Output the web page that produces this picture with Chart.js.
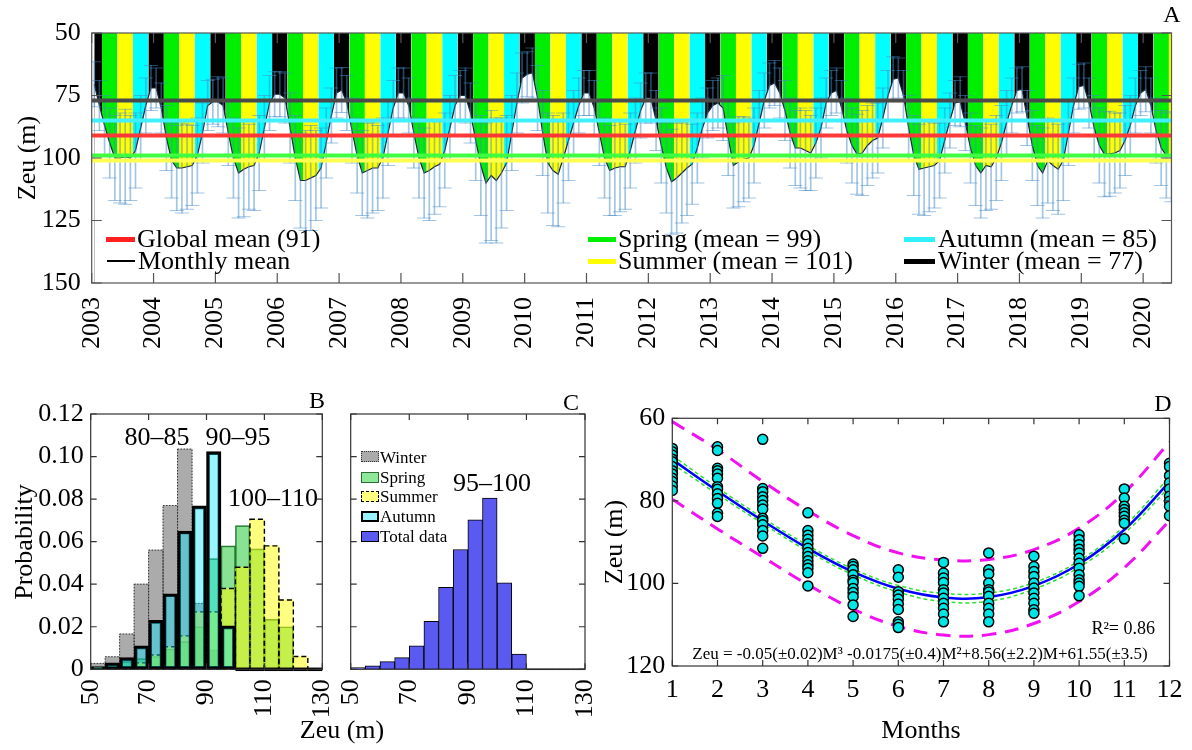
<!DOCTYPE html>
<html>
<head>
<meta charset="utf-8">
<title>Zeu seasonal variability</title>
<script src="https://cdn.jsdelivr.net/npm/chart.js@4.4.1/dist/chart.umd.min.js"></script>
<style>
  body { margin: 0; background: #fff; }
  #fig { position: relative; width: 1192px; height: 750px; overflow: hidden;
         font-family: "Liberation Serif", "Times New Roman", serif; color: #000; }
  #fig canvas { position: absolute; left: 0; top: 0; }
  .t { position: absolute; white-space: nowrap; line-height: 1; transform: translate(-50%, -50%); }
  .r { transform: translate(-50%, -50%) rotate(-90deg); }
  .l { transform: translate(0, -50%); }
  .e { transform: translate(-100%, -50%); }
  .sw { position: absolute; box-sizing: border-box; }
</style>
</head>
<body>
<div id="fig">
  <canvas id="chartA" width="1192" height="750"></canvas>
  <canvas id="chartB" width="1192" height="750"></canvas>
  <canvas id="chartC" width="1192" height="750"></canvas>
  <canvas id="chartD" width="1192" height="750"></canvas>

  <!-- panel A text -->
  <div class="t r" style="left:27px;top:158px;font-size:26px">Zeu (m)</div>
  <div class="t" style="left:1172px;top:14px;font-size:24px">A</div>
  <div class="sw" style="left:106px;top:237px;width:29px;height:5px;background:#ff2020"></div>
  <div class="t l" style="left:137px;top:239px;font-size:26px">Global mean (91)</div>
  <div class="sw" style="left:107px;top:260px;width:28px;height:1.5px;background:#000"></div>
  <div class="t l" style="left:138px;top:261px;font-size:26px">Monthly mean</div>
  <div class="sw" style="left:588px;top:237px;width:28px;height:5px;background:#00ee00"></div>
  <div class="t l" style="left:618px;top:239px;font-size:26px">Spring (mean = 99)</div>
  <div class="sw" style="left:588px;top:259px;width:28px;height:5px;background:#ffff00"></div>
  <div class="t l" style="left:618px;top:261px;font-size:26px">Summer (mean = 101)</div>
  <div class="sw" style="left:904px;top:237px;width:31px;height:5px;background:#30f0ff"></div>
  <div class="t l" style="left:938px;top:239px;font-size:26px">Autumn (mean = 85)</div>
  <div class="sw" style="left:904px;top:259px;width:31px;height:5px;background:#000"></div>
  <div class="t l" style="left:938px;top:261px;font-size:26px">Winter (mean = 77)</div>

  <!-- panel B / C text -->
  <div class="t r" style="left:24px;top:542px;font-size:26px">Probability</div>
  <div class="t" style="left:317px;top:400px;font-size:24px">B</div>
  <div class="t" style="left:157px;top:437px;font-size:26px">80–85</div>
  <div class="t" style="left:238px;top:437px;font-size:26px">90–95</div>
  <div class="t" style="left:273px;top:498px;font-size:26px">100–110</div>
  <div class="t" style="left:342px;top:730px;font-size:26px">Zeu (m)</div>
  <div class="t" style="left:571px;top:402px;font-size:24px">C</div>
  <div class="t" style="left:492px;top:483px;font-size:26px">95–100</div>
  <div class="sw" style="left:361px;top:451px;width:18px;height:11px;background:#aaaaaa;border:1px dotted #333"></div>
  <div class="t l" style="left:380px;top:457px;font-size:17px">Winter</div>
  <div class="sw" style="left:361px;top:472px;width:18px;height:11px;background:#8ee89a;border:1px solid #2d6a35"></div>
  <div class="t l" style="left:380px;top:477px;font-size:17px">Spring</div>
  <div class="sw" style="left:361px;top:491px;width:18px;height:11px;background:#ffff80;border:1px dashed #000"></div>
  <div class="t l" style="left:380px;top:496px;font-size:17px">Summer</div>
  <div class="sw" style="left:361px;top:511px;width:18px;height:11px;background:#99f3ff;border:2px solid #000"></div>
  <div class="t l" style="left:380px;top:516px;font-size:17px">Autumn</div>
  <div class="sw" style="left:361px;top:531px;width:18px;height:11px;background:#5a5af0;border:1px solid #000"></div>
  <div class="t l" style="left:380px;top:536px;font-size:17px">Total data</div>

  <!-- panel D text -->
  <div class="t" style="left:1163px;top:403px;font-size:24px">D</div>
  <div class="t r" style="left:614px;top:542px;font-size:26px">Zeu (m)</div>
  <div class="t" style="left:921px;top:730px;font-size:26px">Months</div>
  <div class="t e" style="left:1155px;top:628px;font-size:18px">R²= 0.86</div>
  <div class="t" style="left:920px;top:653px;font-size:17px">Zeu = -0.05(±0.02)M³ -0.0175(±0.4)M²+8.56(±2.2)M+61.55(±3.5)</div>
</div>

<script>
// ---------- data: panel A (monthly mean Zeu, m) ----------
const years = [2003, 2004, 2005, 2006, 2007, 2008, 2009, 2010, 2011, 2012,
               2013, 2014, 2015, 2016, 2017, 2018, 2019, 2020];
// Jan..Dec for each year (2020 ends in June)
const monthlyMean = [
  [70.5, 79, 87, 94, 100, 100, 99.5, 100, 97, 88, 79, 72],
  [72, 80, 92, 101, 104, 104, 103.5, 103, 99, 90, 79, 77.5],
  [77.5, 79, 90, 100, 106, 104.5, 103.5, 103, 98, 88, 78, 74.5],
  [74.5, 76, 88, 100, 109, 109, 108, 107, 104, 94, 83, 74],
  [72.8, 78, 89, 99, 106, 105, 104, 104, 100, 90, 80, 74],
  [74, 79, 90, 100, 106, 105, 103.5, 102.5, 97, 88, 79, 75],
  [75, 82, 93, 103, 110, 107, 109, 106, 102, 90, 78, 68],
  [66.5, 66, 76, 90, 102, 105, 106.5, 100, 93, 86, 79, 74],
  [74, 80, 90, 100, 105, 104, 103.5, 103.5, 97, 89, 81, 76],
  [76, 85, 95, 104, 109.5, 108, 106, 104, 102.5, 96, 88, 82],
  [79, 78, 80, 92, 103, 101.5, 100.5, 100, 95, 86, 77, 71],
  [70, 74, 81, 90, 96, 96, 97, 98, 94, 88, 78, 74],
  [73, 80, 89, 95, 98.5, 98, 95, 93, 92, 84, 75, 68.5],
  [68, 75, 88, 99, 104.5, 104, 103.5, 103, 101, 93, 85, 78],
  [77.5, 86, 96, 103, 106, 103, 103.5, 100, 94, 86, 79, 73],
  [72.5, 84, 95, 103, 106, 101, 103, 104.5, 101, 90, 79, 71.5],
  [71, 78, 88, 95, 98.5, 98.3, 98, 97, 93, 87, 79, 74],
  [72.5, 79, 89, 96, 99, 99.5]
];
// standard deviation for each monthly mean
const monthlySd = [
  [9, 10, 12, 14, 17, 18, 19, 17, 15, 13, 11, 9],
  [8, 10, 13, 15, 17, 18, 17, 16, 15, 12, 10, 9],
  [10, 11, 13, 16, 18, 19, 17, 18, 15, 13, 11, 9],
  [9, 10, 14, 17, 19, 20, 21, 18, 16, 14, 11, 10],
  [9, 11, 13, 15, 17, 19, 18, 17, 16, 13, 11, 10],
  [10, 11, 14, 16, 18, 20, 19, 17, 15, 13, 12, 10],
  [11, 12, 16, 20, 24, 26, 25, 22, 19, 15, 12, 10],
  [9, 10, 13, 17, 20, 22, 21, 18, 16, 13, 11, 9],
  [9, 11, 13, 16, 18, 19, 18, 17, 15, 13, 11, 10],
  [10, 12, 15, 18, 21, 22, 20, 19, 16, 14, 12, 10],
  [10, 10, 13, 15, 17, 18, 17, 16, 15, 13, 11, 9],
  [9, 10, 12, 14, 15, 16, 16, 15, 14, 12, 10, 9],
  [9, 11, 13, 15, 16, 17, 16, 15, 14, 12, 10, 9],
  [8, 10, 13, 16, 18, 19, 18, 17, 15, 13, 11, 9],
  [10, 11, 14, 16, 18, 18, 17, 17, 15, 13, 11, 9],
  [9, 11, 14, 16, 18, 17, 18, 18, 16, 13, 11, 9],
  [9, 10, 13, 15, 17, 17, 16, 15, 14, 12, 11, 9],
  [9, 11, 13, 15, 17, 18]
];
const seasonOfMonth = ['Winter', 'Winter', 'Spring', 'Spring', 'Spring', 'Summer',
                       'Summer', 'Summer', 'Autumn', 'Autumn', 'Autumn', 'Winter'];
const globalMean = 91;
const seasonMean = { Spring: 99, Summer: 101, Autumn: 85, Winter: 77 };

// ---------- data: panels B and C (probability per 5 m bin) ----------
const binCenters = [52.5, 57.5, 62.5, 67.5, 72.5, 77.5, 82.5, 87.5,
                    92.5, 97.5, 102.5, 107.5, 112.5, 117.5, 122.5, 127.5];
const probWinter = [0.0028, 0.0059, 0.0166, 0.040, 0.056, 0.077, 0.1035, 0.031,
                    0.009, 0, 0, 0, 0, 0, 0, 0];
const probSpring = [0.0008, 0.002, 0.0036, 0.005, 0.006, 0.0095, 0.013, 0.020,
                    0.052, 0.058, 0.0675, 0.0566, 0.0235, 0.020, 0, 0];
const probSummer = [0, 0.0005, 0.001, 0.003, 0.0067, 0.0106, 0.0157, 0.027,
                    0.027, 0.038, 0.048, 0.0705, 0.058, 0.0326, 0.006, 0];
const probAutumn = [0.0013, 0.003, 0.0055, 0.011, 0.023, 0.0355, 0.065, 0.0768,
                    0.1023, 0.0204, 0, 0, 0, 0, 0, 0];
const probTotal = [0.0008, 0.0016, 0.0036, 0.0055, 0.011, 0.0225, 0.0385, 0.0563,
                   0.0703, 0.0805, 0.0406, 0.0071, 0, 0, 0, 0];

// ---------- data: panel D (Zeu by calendar month) ----------
const monthNums = [1, 2, 3, 4, 5, 6, 7, 8, 9, 10, 11, 12];
const zeuByMonth = [
  [67.3, 68.1, 68.9, 69.9, 70.5, 71.7, 72.7, 73.5, 74.5, 75.3, 76.4, 77.5],
  [66.9, 67.8, 72.1, 72.7, 73.5, 74.5, 76.6, 77.2, 78.3, 79.4, 80.6, 83, 83.8],
  [65.1, 77, 77.8, 79, 79.9, 81, 82, 84.2, 84.8, 85.8, 87.2, 88.5, 91.5],
  [82.9, 87.2, 88.3, 89.3, 90.4, 91.5, 92.5, 93.5, 94.5, 95.5, 96.3, 97.4, 100.6],
  [95.3, 95.9, 96.7, 97.9, 99.2, 99.8, 101.2, 102.2, 103.2, 105.2, 108],
  [96.7, 98.5, 102, 102.8, 103.8, 105, 106.3, 109.3, 109.9, 110.7],
  [94.9, 97.5, 98.7, 99.8, 101.5, 102.3, 103.6, 104.8, 106, 107.4, 109.3],
  [92.6, 96.7, 97.7, 99.9, 101.5, 102.1, 103.1, 104.8, 106, 107.4, 109.3],
  [93.4, 95.9, 97.1, 98.3, 99.9, 101.1, 102.3, 103.6, 104.8, 106.4, 107.2],
  [88.2, 89.4, 90.6, 91.7, 92.6, 93.9, 95.1, 96.3, 97.9, 99.1, 99.9, 100.7, 103],
  [77.1, 79.3, 81.3, 82.1, 82.9, 83.7, 84.7, 85.4, 89.2],
  [70.9, 71.7, 73.9, 75.6, 77.1, 78.9, 80.1, 81.3, 83.6]
];
const fitZeu  = [70.0, 77.6, 84.8, 91.5, 97.2, 101.3, 103.4, 103.3, 100.6, 95.3, 87.0, 75.4];
const ciUpper = [69.0, 76.8, 84.1, 90.8, 96.5, 100.5, 102.4, 102.3, 99.8, 94.5, 86.1, 74.2];
const ciLower = [71.0, 78.4, 85.5, 92.2, 97.9, 102.1, 104.4, 104.3, 101.4, 96.1, 87.9, 76.6];
const piUpper = [60.8, 67.6, 75.3, 82.4, 88.4, 92.6, 94.3, 94.2, 91.8, 86.6, 78.0, 65.8];
const piLower = [79.6, 86.8, 93.6, 100.3, 106.2, 110.4, 112.5, 112.4, 109.7, 104.4, 96.2, 84.8];

// ---------- styling ----------
Chart.defaults.font.family = '"Liberation Serif", "Times New Roman", serif';
Chart.defaults.font.size = 26;
Chart.defaults.color = '#000';
Chart.defaults.animation = false;
Chart.defaults.responsive = false;
Chart.defaults.events = [];
Chart.defaults.plugins.legend.display = false;
Chart.defaults.plugins.tooltip.enabled = false;

const seasonColor = { Winter: '#000000', Spring: '#00ee00', Summer: '#ffff00', Autumn: '#00ffff' };
const errColor = 'rgba(70,140,200,0.5)';

// box around the plot with inward tick marks on all four sides
const framePlugin = {
  id: 'frame',
  afterDatasetsDraw(chart, args, opts) {
    const { ctx, chartArea: a, scales } = chart;
    const L = opts.len || 7;
    ctx.save();
    ctx.strokeStyle = opts.color || '#333';
    ctx.lineWidth = opts.width || 1.2;
    ctx.strokeRect(a.left, a.top, a.right - a.left, a.bottom - a.top);
    ctx.beginPath();
    scales.x.ticks.forEach((t, i) => {
      const px = scales.x.getPixelForTick(i);
      ctx.moveTo(px, a.bottom); ctx.lineTo(px, a.bottom - L);
      ctx.moveTo(px, a.top); ctx.lineTo(px, a.top + L);
    });
    scales.y.ticks.forEach((t, i) => {
      const py = scales.y.getPixelForTick(i);
      ctx.moveTo(a.left, py); ctx.lineTo(a.left + L, py);
      ctx.moveTo(a.right, py); ctx.lineTo(a.right - L, py);
    });
    ctx.stroke();
    ctx.restore();
  }
};

// dashed / dotted outlines for histogram bars, and outlines of empty bins
const outlinePlugin = {
  id: 'outline',
  afterDatasetDraw(chart, { meta, index }) {
    const ds = chart.data.datasets[index];
    const ctx = chart.ctx;
    ctx.save();
    meta.data.forEach(bar => {
      const { x, y, base, width } = bar.getProps(['x', 'y', 'base', 'width'], true);
      const empty = Math.abs(base - y) < 0.5;
      if (empty && ds.zeroLineWidth) {
        ctx.setLineDash([]);
        ctx.strokeStyle = ds.borderColor;
        ctx.lineWidth = ds.zeroLineWidth;
        ctx.beginPath();
        ctx.moveTo(x - width / 2, base); ctx.lineTo(x + width / 2, base);
        ctx.stroke();
      } else if (!empty && ds.outlineDash) {
        ctx.strokeStyle = ds.outlineColor;
        ctx.lineWidth = ds.outlineWidth;
        ctx.setLineDash(ds.outlineDash);
        ctx.strokeRect(x - width / 2, Math.min(y, base), width, Math.abs(base - y));
      }
    });
    ctx.restore();
  }
};

// place the plot area of a full-size canvas
function pad(l, t, r, b, yw, xh) {
  return { left: l - yw, top: t, right: 1192 - r, bottom: 750 - b - xh };
}
const noGrid = { display: false, drawTicks: false };

// ---------- panel A ----------
const meanPts = [], stems = [], capHi = [], capLo = [];
years.forEach((yr, i) => {
  monthlyMean[i].forEach((v, m) => {
    const x = yr + (m + 0.5) / 12;
    const s = monthlySd[i][m];
    meanPts.push({ x, y: v });
    stems.push({ x, y: [v - s, v + s] });
    capHi.push({ x, y: v - s });
    capLo.push({ x, y: v + s });
  });
});
// seasonal background: one block per month, limited to the span of the monthly series
const xStartA = 2003, xEndA = meanPts[meanPts.length - 1].x;
const stripePts = [];
for (let k = 0; k < meanPts.length; k++) stripePts.push({ x: k === 0 ? meanPts[0].x : xStartA + k / 12, y: 150 });
stripePts.push({ x: xEndA, y: 150 });

function hline(v, color, order) {
  return { data: [{ x: xStartA, y: v }, { x: xEndA, y: v }], borderColor: color,
           borderWidth: 4, pointRadius: 0, fill: false, order };
}

new Chart(document.getElementById('chartA'), {
  type: 'line',
  data: {
    datasets: [
      { data: stripePts, borderWidth: 0, pointRadius: 0, fill: { value: 50 },
        backgroundColor: '#000', order: 10,
        segment: { backgroundColor: c => seasonColor[seasonOfMonth[c.p0DataIndex % 12]] } },
      { data: meanPts, borderColor: '#1b2631', borderWidth: 1.2, pointRadius: 0,
        fill: { value: 150 }, backgroundColor: '#ffffff', order: 9 },
      { type: 'bar', data: stems, barThickness: 1, backgroundColor: errColor,
        borderWidth: 0, order: 8 },
      { data: capHi, showLine: false, pointStyle: 'line', pointRadius: 7,
        pointBorderColor: errColor, pointBorderWidth: 1, order: 7 },
      { data: capLo, showLine: false, pointStyle: 'line', pointRadius: 7,
        pointBorderColor: errColor, pointBorderWidth: 1, order: 7 },
      hline(seasonMean.Winter, '#4a4a4a', 5),
      hline(seasonMean.Autumn, '#40f0ff', 4),
      hline(globalMean, '#ff3838', 3),
      hline(seasonMean.Spring, '#40ff40', 2),
      hline(seasonMean.Summer, '#ffff50', 1)
    ]
  },
  options: {
    layout: { padding: pad(91.7, 33, 1171.5, 283, 90, 100) },
    scales: {
      x: { type: 'linear', min: xStartA, max: xEndA, offset: false, grid: noGrid, border: { display: false },
           ticks: { stepSize: 1, includeBounds: false, autoSkip: false, minRotation: 90, maxRotation: 90,
                    padding: 14, callback: v => String(v) },
           afterFit: s => { s.height = 100; } },
      y: { type: 'linear', min: 50, max: 150, reverse: true, grid: noGrid, border: { display: false },
           ticks: { stepSize: 25, padding: 11 },
           afterFit: s => { s.width = 90; } }
    },
    plugins: { frame: { len: 10, color: '#555' } }
  },
  plugins: [framePlugin]
});

// ---------- panels B and C ----------
function histScales(showY) {
  return {
    x: { type: 'linear', min: 50, max: 130, offset: false, grid: noGrid, border: { display: false },
         ticks: { stepSize: 20, autoSkip: false, minRotation: 90, maxRotation: 90, padding: 10 },
         afterFit: s => { s.height = 60; } },
    y: { type: 'linear', min: 0, max: 0.12, grid: noGrid, border: { display: false },
         ticks: { display: showY, stepSize: 0.02, padding: 7,
                  callback: v => v === 0 ? '0' : v.toFixed(2) },
         afterFit: s => { s.width = showY ? 88 : 20; } }
  };
}
const pts = arr => arr.map((v, i) => ({ x: binCenters[i], y: v }));
const barBase = { barPercentage: 1, categoryPercentage: 1, grouped: false, borderSkipped: false };

new Chart(document.getElementById('chartB'), {
  type: 'bar',
  data: {
    datasets: [
      { ...barBase, data: pts(probWinter), backgroundColor: 'rgba(120,120,120,0.62)', borderWidth: 0,
        outlineDash: [1.5, 1.5], outlineColor: '#333', outlineWidth: 1, order: 4 },
      { ...barBase, data: pts(probSpring), backgroundColor: 'rgba(40,200,60,0.55)', borderWidth: 1,
        borderColor: 'rgba(20,90,30,0.9)', order: 3 },
      { ...barBase, data: pts(probSummer), backgroundColor: 'rgba(255,255,0,0.5)', borderWidth: 0,
        outlineDash: [5, 3], outlineColor: '#000', outlineWidth: 1.4, order: 2 },
      { ...barBase, data: pts(probAutumn), backgroundColor: 'rgba(0,230,255,0.4)', borderWidth: 3,
        borderColor: '#000', zeroLineWidth: 3.5, order: 1 }
    ]
  },
  options: {
    layout: { padding: pad(90.7, 414, 322.3, 669.3, 88, 60) },
    scales: histScales(true),
    plugins: { frame: { len: 6, color: '#333' } }
  },
  plugins: [outlinePlugin, framePlugin]
});

new Chart(document.getElementById('chartC'), {
  type: 'bar',
  data: {
    datasets: [
      { ...barBase, data: pts(probTotal), backgroundColor: '#5a5af0', borderWidth: 1, borderColor: '#000',
        zeroLineWidth: 1.5 }
    ]
  },
  options: {
    layout: { padding: pad(350.7, 414, 585, 669.3, 20, 60) },
    scales: histScales(false),
    plugins: { frame: { len: 6, color: '#333' } }
  },
  plugins: [outlinePlugin, framePlugin]
});

// ---------- panel D ----------
const scatterPts = [];
zeuByMonth.forEach((vals, i) => vals.forEach(v => scatterPts.push({ x: monthNums[i], y: v })));
const curve = arr => arr.map((v, i) => ({ x: monthNums[i], y: v }));

new Chart(document.getElementById('chartD'), {
  type: 'line',
  data: {
    datasets: [
      { type: 'scatter', data: scatterPts, pointRadius: 5, pointBackgroundColor: '#00e6e6',
        pointBorderColor: '#000', pointBorderWidth: 1.5, order: 1 },
      { data: curve(fitZeu), borderColor: '#0000ff', borderWidth: 2.5, pointRadius: 0, tension: 0.4, order: 2 },
      { data: curve(ciUpper), borderColor: '#30e030', borderWidth: 1.5, borderDash: [4, 3], pointRadius: 0, tension: 0.4, order: 3 },
      { data: curve(ciLower), borderColor: '#30e030', borderWidth: 1.5, borderDash: [4, 3], pointRadius: 0, tension: 0.4, order: 3 },
      { data: curve(piUpper), borderColor: '#f010f0', borderWidth: 3, borderDash: [14, 9], pointRadius: 0, tension: 0.4, order: 4 },
      { data: curve(piLower), borderColor: '#f010f0', borderWidth: 3, borderDash: [14, 9], pointRadius: 0, tension: 0.4, order: 4 }
    ]
  },
  options: {
    layout: { padding: pad(672.3, 418.3, 1169.5, 666, 66, 40) },
    scales: {
      x: { type: 'linear', min: 1, max: 12, offset: false, grid: noGrid, border: { display: false },
           ticks: { stepSize: 1, autoSkip: false, maxRotation: 0, padding: 9 },
           afterFit: s => { s.height = 40; } },
      y: { type: 'linear', min: 60, max: 120, reverse: true, grid: noGrid, border: { display: false },
           ticks: { stepSize: 20, padding: 7 },
           afterFit: s => { s.width = 66; } }
    },
    plugins: { frame: { len: 6, color: '#333' } }
  },
  plugins: [framePlugin]
});
</script>
</body>
</html>
